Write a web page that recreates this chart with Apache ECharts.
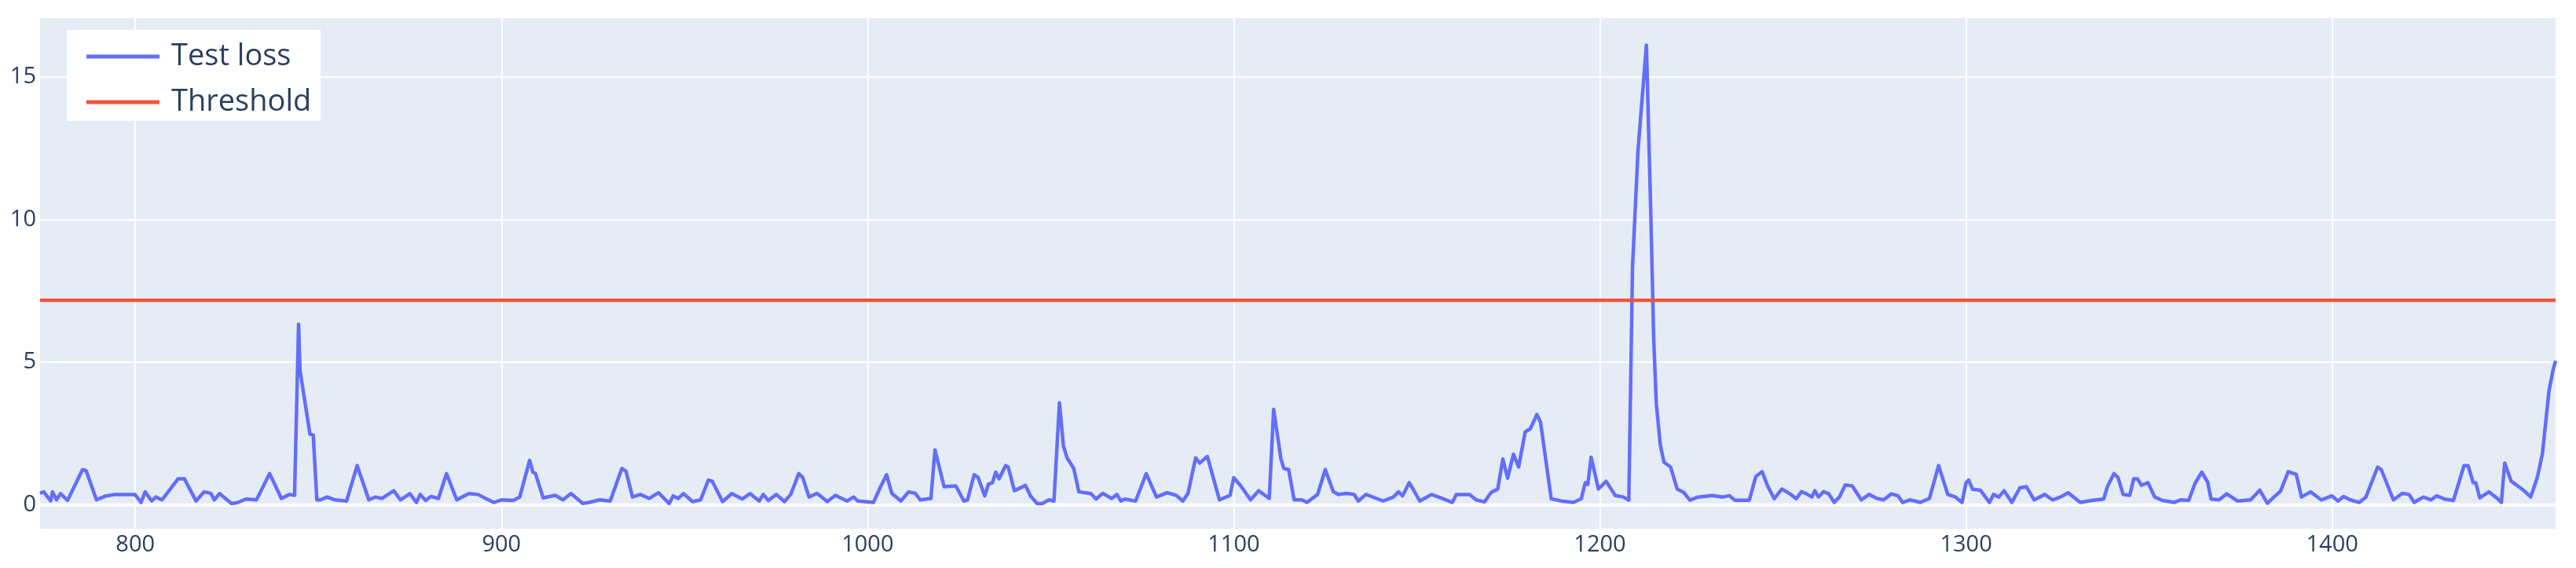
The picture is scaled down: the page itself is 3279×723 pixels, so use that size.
<!DOCTYPE html>
<html>
<head>
<meta charset="utf-8">
<script src="https://cdn.jsdelivr.net/npm/echarts@6/dist/echarts.min.js"></script>
<style>
html, body { margin: 0; padding: 0; background: #fff; }
#chart { width: 3279px; height: 723px; }
</style>
</head>
<body>
<div id="chart"></div>
<script>
var lossSteps = [
	774, 775, 776.9, 777.4, 778.5, 779.6, 781.5, 785.6, 786.6, 789.4, 792, 794.5, 799.9, 801.6, 802.7, 804.5,
	805.6, 807.3, 811.7, 813.4, 816.6, 818.8, 820.6, 821.6, 823, 826.3, 828.1, 830.2, 833.1, 836.7, 839.9, 842.1,
	843.5, 844.6, 845, 847.7, 848.6, 849.6, 850.6, 852.4, 854.5, 857.7, 860.6, 863.8, 865.6, 867.4, 870.6, 872.4,
	875, 876.8, 877.8, 879.3, 880.7, 882.8, 885, 887.8, 891.1, 893.6, 895.7, 897.9, 900, 903.2, 905, 907.7,
	908.6, 909.3, 911.4, 914.7, 916.8, 919, 922.2, 924, 926.8, 929.7, 932.9, 934, 935.8, 937.9, 940.4, 942.9,
	945.8, 946.9, 948.3, 949.7, 952.2, 954.4, 956.5, 957.6, 960.4, 962.9, 965.8, 967.9, 970.4, 971.5, 972.9, 975.1,
	977.3, 979, 981.2, 982.3, 984, 986.2, 989, 991.2, 994.4, 996.2, 997.3, 1001.6, 1003.4, 1005.2, 1006.6, 1009.1,
	1011.2, 1013, 1014.4, 1017.3, 1018.4, 1020.9, 1024.1, 1026.3, 1027.3, 1029.1, 1030.2, 1032, 1033, 1034.1, 1035, 1035.9,
	1037.7, 1038.4, 1040.1, 1041.9, 1043.1, 1044.5, 1046.3, 1047.7, 1049.5, 1050.9, 1052.4, 1053.5, 1054.5, 1056.3, 1057.7, 1061,
	1062.4, 1064.2, 1066.7, 1068.1, 1069.2, 1070.2, 1073.2, 1076.1, 1078.9, 1081.8, 1084.3, 1086.1, 1087.5, 1089.6, 1090.7, 1092.8,
	1096.1, 1099, 1100, 1101.8, 1104.6, 1106.8, 1109.7, 1110.9, 1112.9, 1113.7, 1115, 1116.5, 1118.6, 1120, 1122.9, 1125,
	1127.2, 1128.6, 1130.8, 1132.9, 1134, 1136.1, 1138.6, 1140.8, 1143.6, 1145, 1146.1, 1147.9, 1149, 1150.8, 1154, 1156.9,
	1159.7, 1160.8, 1164.4, 1166.2, 1168.5, 1170.3, 1172.1, 1173.5, 1174.8, 1176.4, 1177.8, 1179.6, 1181, 1182.8, 1183.8, 1186.7,
	1189.9, 1192.8, 1194.9, 1196, 1196.7, 1197.6, 1199.6, 1201.7, 1204.2, 1206.4, 1207.9, 1208.9, 1210.4, 1212.7, 1213.9, 1214.7,
	1215.4, 1216.5, 1217.5, 1219.3, 1221.1, 1222.9, 1224.6, 1226.8, 1230.7, 1233.6, 1235.4, 1236.8, 1240.8, 1242.6, 1244.3, 1245.8,
	1247.6, 1249.7, 1251.9, 1253.6, 1255.1, 1256.4, 1257.9, 1258.7, 1259.7, 1261.1, 1262.5, 1264, 1265.4, 1267, 1268.9, 1271.4,
	1273.5, 1275.7, 1277.5, 1279.6, 1281.4, 1282.7, 1284.6, 1287.5, 1290, 1292.5, 1295, 1297.1, 1298.9, 1300, 1300.7, 1301.8,
	1303.9, 1306.4, 1307.5, 1308.9, 1310.4, 1312.5, 1314.7, 1316.5, 1318.6, 1321.5, 1323.6, 1325.8, 1327.9, 1331.2, 1334.3, 1337.6,
	1338.6, 1340.4, 1341.5, 1342.9, 1344.7, 1345.8, 1346.8, 1347.9, 1349.7, 1351.5, 1353.6, 1356.8, 1358.6, 1360.8, 1362.6, 1364.4,
	1366, 1366.9, 1369.1, 1371.2, 1374.1, 1377.7, 1380.2, 1382.3, 1384.1, 1385.9, 1388, 1390.2, 1391.6, 1394.1, 1397, 1399.9,
	1401.6, 1403.1, 1404.9, 1407.4, 1409.2, 1412.4, 1413.4, 1416.7, 1419.2, 1421, 1422.4, 1424.9, 1427, 1428.5, 1430.6, 1433.1,
	1436, 1437.1, 1438.5, 1439.2, 1440.3, 1442.8, 1444.9, 1446.2, 1447.1, 1448.9, 1451.4, 1452.4, 1454.2, 1456, 1457.4, 1459.2,
	1460.3, 1461
];
var lossValues = [
	0.41, 0.46, 0.14, 0.46, 0.18, 0.40, 0.16, 1.24, 1.20, 0.18, 0.32, 0.37, 0.37, 0.09, 0.46, 0.14,
	0.28, 0.18, 0.92, 0.92, 0.14, 0.46, 0.41, 0.18, 0.40, 0.05, 0.09, 0.21, 0.18, 1.10, 0.23, 0.37,
	0.34, 6.33, 4.72, 2.48, 2.45, 0.18, 0.18, 0.28, 0.18, 0.14, 1.38, 0.18, 0.28, 0.23, 0.50, 0.18,
	0.40, 0.09, 0.37, 0.16, 0.30, 0.23, 1.10, 0.18, 0.40, 0.37, 0.23, 0.09, 0.18, 0.16, 0.28, 1.56,
	1.15, 1.10, 0.25, 0.34, 0.18, 0.40, 0.06, 0.09, 0.18, 0.14, 1.28, 1.19, 0.28, 0.37, 0.23, 0.43,
	0.05, 0.32, 0.23, 0.40, 0.12, 0.18, 0.87, 0.83, 0.12, 0.40, 0.21, 0.40, 0.14, 0.37, 0.16, 0.37,
	0.12, 0.37, 1.10, 0.96, 0.28, 0.41, 0.12, 0.34, 0.14, 0.28, 0.14, 0.09, 0.60, 1.06, 0.41, 0.14,
	0.46, 0.41, 0.18, 0.23, 1.93, 0.64, 0.67, 0.14, 0.18, 1.06, 0.96, 0.32, 0.73, 0.78, 1.15, 0.92,
	1.38, 1.33, 0.50, 0.61, 0.69, 0.32, 0.05, 0.05, 0.18, 0.14, 3.58, 2.06, 1.65, 1.28, 0.46, 0.40,
	0.21, 0.41, 0.23, 0.37, 0.14, 0.21, 0.14, 1.10, 0.28, 0.43, 0.34, 0.14, 0.41, 1.65, 1.47, 1.70,
	0.18, 0.34, 0.96, 0.69, 0.18, 0.50, 0.23, 3.35, 1.61, 1.28, 1.24, 0.18, 0.18, 0.09, 0.37, 1.24,
	0.46, 0.37, 0.41, 0.37, 0.14, 0.37, 0.25, 0.14, 0.28, 0.46, 0.32, 0.78, 0.55, 0.14, 0.37, 0.23,
	0.09, 0.37, 0.37, 0.18, 0.11, 0.44, 0.56, 1.61, 0.94, 1.78, 1.33, 2.56, 2.67, 3.17, 2.89, 0.22,
	0.13, 0.09, 0.22, 0.78, 0.72, 1.67, 0.56, 0.83, 0.33, 0.28, 0.17, 8.3, 12.4, 16.1, 10.2, 5.8,
	3.56, 2.1, 1.5, 1.33, 0.56, 0.44, 0.17, 0.28, 0.33, 0.28, 0.33, 0.17, 0.17, 1.00, 1.17, 0.67,
	0.22, 0.56, 0.39, 0.22, 0.47, 0.39, 0.28, 0.50, 0.28, 0.47, 0.39, 0.09, 0.28, 0.70, 0.67, 0.18,
	0.37, 0.23, 0.18, 0.39, 0.32, 0.09, 0.18, 0.09, 0.23, 1.38, 0.37, 0.28, 0.09, 0.78, 0.87, 0.55,
	0.52, 0.09, 0.37, 0.28, 0.50, 0.09, 0.60, 0.64, 0.18, 0.37, 0.18, 0.28, 0.43, 0.09, 0.16, 0.21,
	0.64, 1.10, 0.96, 0.37, 0.34, 0.92, 0.92, 0.69, 0.78, 0.28, 0.16, 0.09, 0.18, 0.16, 0.78, 1.15,
	0.80, 0.21, 0.18, 0.39, 0.14, 0.18, 0.52, 0.06, 0.28, 0.49, 1.17, 1.07, 0.28, 0.46, 0.18, 0.32,
	0.14, 0.30, 0.18, 0.09, 0.28, 1.33, 1.24, 0.18, 0.41, 0.37, 0.09, 0.28, 0.18, 0.32, 0.21, 0.16,
	1.38, 1.38, 0.78, 0.78, 0.25, 0.46, 0.25, 0.09, 1.47, 0.83, 0.60, 0.50, 0.28, 0.96, 1.79, 3.99,
	4.72, 5.05
];
var thresholdValue = 7.17;
var seriesNames = ['Test loss', 'Threshold'];

var fontStack = '"Open Sans", verdana, arial, sans-serif';
var textColor = '#2a3f5f';

var lossData = lossSteps.map(function (x, i) { return [x, lossValues[i]]; });
var firstStep = lossSteps[0];
var lastStep = lossSteps[lossSteps.length - 1];

var myChart = echarts.init(document.getElementById('chart'), null, { renderer: 'canvas' });

var option = {
	animation: false,
	backgroundColor: '#ffffff',
	grid: {
		left: 51,
		right: 26,
		top: 23,
		bottom: 50,
		show: true,
		backgroundColor: '#E5ECF6',
		borderWidth: 0
	},
	legend: {
		data: seriesNames,
		orient: 'vertical',
		left: 85,
		top: 38,
		backgroundColor: '#ffffff',
		padding: [14, 12, 4, 25],
		itemGap: 18,
		itemWidth: 93,
		itemHeight: 5,
		icon: 'rect',
		textStyle: {
			fontFamily: fontStack,
			fontSize: 38,
			lineHeight: 40,
			color: textColor,
			padding: [0, 0, 0, 10]
		}
	},
	xAxis: {
		type: 'value',
		min: firstStep,
		max: lastStep,
		splitNumber: 7,
		axisLine: { show: false },
		axisTick: { show: false },
		axisLabel: {
			color: textColor,
			fontFamily: fontStack,
			fontSize: 29,
			margin: 6,
			showMinLabel: false,
			showMaxLabel: false,
			formatter: function (v) { return String(v); }
		},
		splitLine: {
			show: true,
			showMinLine: false,
			showMaxLine: false,
			lineStyle: { color: '#ffffff', width: 2 }
		}
	},
	yAxis: {
		type: 'value',
		min: -0.83,
		max: 17.05,
		splitNumber: 4,
		axisLine: { show: false },
		axisTick: { show: false },
		axisLabel: {
			color: textColor,
			fontFamily: fontStack,
			fontSize: 29,
			margin: 5,
			showMinLabel: false,
			showMaxLabel: false,
			formatter: function (v) { return String(v); }
		},
		splitLine: {
			show: true,
			showMinLine: false,
			showMaxLine: false,
			lineStyle: { color: '#ffffff', width: 2 }
		}
	},
	series: [
		// zero line, like plotly's zeroline
		{
			name: 'zeroline',
			type: 'line',
			data: [[firstStep, 0], [lastStep, 0]],
			showSymbol: false,
			silent: true,
			z: 1,
			lineStyle: { color: '#ffffff', width: 4 }
		},
		{
			name: seriesNames[0],
			type: 'line',
			data: lossData,
			showSymbol: false,
			z: 3,
			itemStyle: { color: '#636efa' },
			lineStyle: { color: '#636efa', width: 4.5, join: 'round' }
		},
		{
			name: seriesNames[1],
			type: 'line',
			data: [[firstStep, thresholdValue], [lastStep, thresholdValue]],
			showSymbol: false,
			z: 4,
			itemStyle: { color: '#EF553B' },
			lineStyle: { color: '#EF553B', width: 4.5 }
		}
	]
};

myChart.setOption(option);
</script>
</body>
</html>
